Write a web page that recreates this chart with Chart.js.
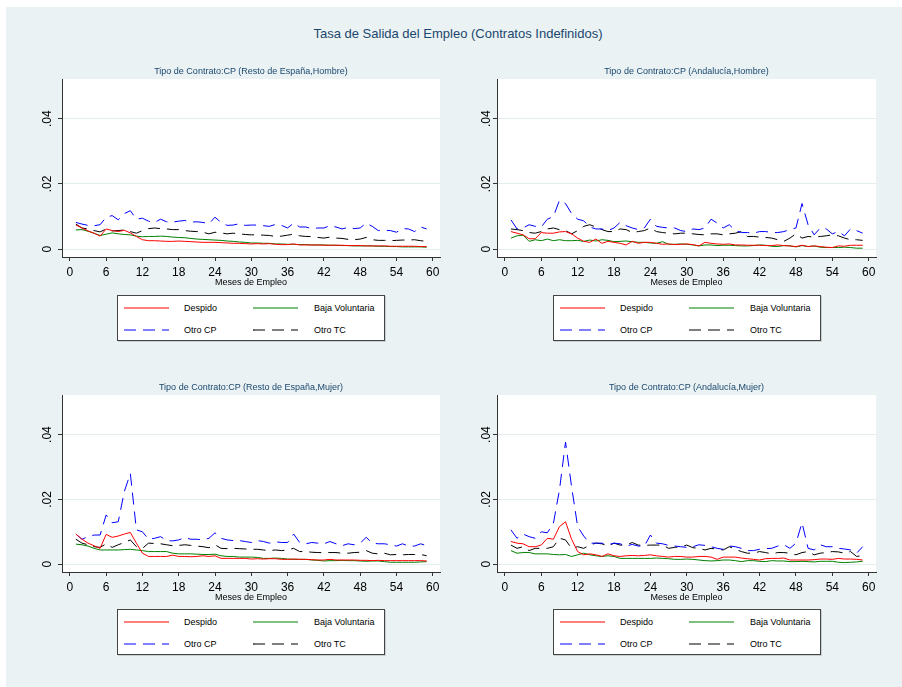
<!DOCTYPE html>
<html>
<head>
<meta charset="utf-8">
<script src="https://cdn.jsdelivr.net/npm/chart.js@4.4.0/dist/chart.umd.min.js"></script>
<style>
  body { margin:0; width:902px; height:687px; position:relative; overflow:hidden; background:#fff; font-family:'Liberation Sans', Arial, sans-serif; }
  #bg { position:absolute; left:6px; top:7px; right:0; bottom:0; background:#eaf2f3; }
  #mainTitle { position:absolute; left:158px; width:600px; top:25px; text-align:center; font-size:13px; line-height:18px; color:#1a476f; }
  .sub { position:absolute; width:380px; text-align:center; font-size:9px; line-height:12px; color:#1a476f; white-space:nowrap; }
  canvas { position:absolute; }
  .legend { position:absolute; width:266px; height:44px; background:#fff; border:1px solid #444; box-shadow:1px 1px 0 #c8d0d2; }
  .legend .item { position:absolute; font-size:9px; line-height:12px; color:#000; white-space:nowrap; }
  .legend svg { position:absolute; }
</style>
</head>
<body>
<div id="bg"></div>
<div id="mainTitle">Tasa de Salida del Empleo (Contratos Indefinidos)</div>

<script>
// meses 1..59
const months = [1,2,3,4,5,6,7,8,9,10,11,12,13,14,15,16,17,18,19,20,21,22,23,24,25,26,27,28,29,30,
  31,32,33,34,35,36,37,38,39,40,41,42,43,44,45,46,47,48,49,50,51,52,53,54,55,56,57,58,59];
const xTicks = [0,6,12,18,24,30,36,42,48,54,60];
const yTicks = [0,0.02,0.04];
const yTickLabels = ["0", ".02", ".04"];

const seriesNames = ["Despido", "Baja Voluntaria", "Otro CP", "Otro TC"];
const seriesColors = ["#ff0000", "#008000", "#0000ff", "#000000"];
const seriesDash = [[], [], [12, 7], [12, 7]];

// Resto de España, Hombre
const despidoRH = [.0074,.0065,.0056,.0049,.0040,.0062,.0057,.0054,.0058,.0050,.0039,.0029,.0026,.0026,.0025,.0024,.0024,.0025,.0024,.0023,
  .0022,.0021,.0021,.0021,.0020,.0019,.0018,.0018,.0017,.0016,.0017,.0016,.0017,.0015,.0014,.0014,.0016,.0013,.0013,.0013,
  .0013,.0012,.0012,.0012,.0012,.0011,.0011,.0011,.0010,.0010,.0010,.0010,.0009,.0009,.0009,.0009,.0009,.0008,.0008];
const bajaRH = [.0059,.0060,.0055,.0049,.0042,.0046,.0050,.0047,.0045,.0044,.0040,.0038,.0039,.0039,.0040,.0039,.0037,.0036,.0035,.0033,
  .0031,.0030,.0029,.0028,.0027,.0025,.0024,.0022,.0021,.0019,.0019,.0018,.0018,.0016,.0016,.0015,.0015,.0014,.0014,.0013,
  .0013,.0013,.0012,.0012,.0011,.0011,.0010,.0010,.0010,.0010,.0009,.0009,.0008,.0008,.0007,.0007,.0007,.0007,.0006];
const otroCPRH = [.0082,.0077,.0073,.0072,.0075,.0098,.0103,.0090,.0109,.0118,.0092,.0095,.0086,.0082,.0092,.0084,.0083,.0086,.0088,.0083,
  .0084,.0082,.0078,.0098,.0082,.0073,.0074,.0078,.0073,.0074,.0074,.0072,.0070,.0076,.0073,.0065,.0080,.0068,.0068,.0063,
  .0065,.0065,.0072,.0068,.0062,.0067,.0063,.0065,.0080,.0070,.0057,.0058,.0057,.0052,.0063,.0062,.0054,.0068,.0062];
const otroTCRH = [.0077,.0065,.0062,.0057,.0053,.0062,.0056,.0057,.0059,.0054,.0049,.0057,.0063,.0065,.0063,.0062,.0060,.0060,.0057,.0055,
  .0054,.0052,.0047,.0052,.0050,.0047,.0049,.0047,.0045,.0044,.0044,.0043,.0042,.0039,.0040,.0043,.0046,.0041,.0039,.0039,
  .0036,.0034,.0037,.0034,.0033,.0030,.0029,.0031,.0036,.0029,.0027,.0027,.0026,.0027,.0028,.0028,.0029,.0026,.0024];

// Andalucía, Hombre
const despidoAH = [.0054,.0049,.0044,.0032,.0032,.0051,.0049,.0049,.0053,.0054,.0047,.0034,.0024,.0021,.0031,.0018,.0024,.0021,.0018,.0013,
  .0024,.0018,.0021,.0021,.0018,.0015,.0016,.0014,.0015,.0016,.0014,.0010,.0021,.0018,.0016,.0015,.0016,.0013,.0013,.0012,
  .0012,.0012,.0011,.0011,.0013,.0011,.0010,.0008,.0012,.0008,.0010,.0008,.0006,.0005,.0010,.0009,.0012,.0012,.0012];
const bajaAH = [.0034,.0041,.0043,.0024,.0029,.0026,.0031,.0026,.0029,.0026,.0026,.0027,.0024,.0028,.0025,.0029,.0027,.0023,.0024,.0025,
  .0023,.0021,.0021,.0019,.0018,.0023,.0015,.0015,.0016,.0015,.0013,.0010,.0013,.0013,.0011,.0012,.0012,.0011,.0010,.0010,
  .0011,.0013,.0012,.0009,.0008,.0011,.0010,.0007,.0011,.0008,.0010,.0006,.0005,.0005,.0005,.0006,.0005,.0003,.0003];
const otroCPAH = [.0090,.0062,.0065,.0075,.0070,.0068,.0092,.0100,.0150,.0140,.0109,.0092,.0087,.0068,.0062,.0062,.0057,.0065,.0082,.0072,
  .0065,.0060,.0065,.0092,.0070,.0067,.0065,.0065,.0057,.0054,.0062,.0060,.0065,.0092,.0080,.0065,.0075,.0057,.0051,.0051,
  .0049,.0054,.0054,.0051,.0051,.0054,.0060,.0065,.0140,.0075,.0044,.0065,.0062,.0047,.0054,.0041,.0062,.0057,.0049];
const otroTCAH = [.0062,.0060,.0057,.0051,.0049,.0054,.0062,.0065,.0060,.0057,.0047,.0057,.0070,.0075,.0068,.0060,.0054,.0054,.0062,.0060,
  .0051,.0054,.0057,.0065,.0054,.0051,.0049,.0047,.0049,.0049,.0047,.0045,.0044,.0047,.0047,.0044,.0047,.0049,.0054,.0039,
  .0039,.0037,.0036,.0034,.0029,.0024,.0034,.0047,.0034,.0039,.0037,.0039,.0041,.0044,.0041,.0034,.0029,.0029,.0027];

// Resto de España, Mujer
const despidoRM = [.0093,.0077,.0065,.0057,.0049,.0092,.0083,.0087,.0093,.0098,.0065,.0034,.0024,.0024,.0024,.0024,.0028,.0024,.0024,.0023,
  .0024,.0026,.0024,.0026,.0018,.0018,.0018,.0018,.0018,.0016,.0017,.0016,.0017,.0017,.0015,.0015,.0016,.0015,.0015,.0014,
  .0013,.0013,.0015,.0013,.0013,.0013,.0013,.0012,.0012,.0011,.0012,.0011,.0011,.0011,.0011,.0011,.0011,.0011,.0010];
const bajaRM = [.0062,.0060,.0056,.0049,.0044,.0044,.0044,.0044,.0045,.0046,.0044,.0042,.0039,.0039,.0039,.0039,.0034,.0032,.0032,.0032,
  .0031,.0030,.0030,.0031,.0026,.0024,.0024,.0022,.0022,.0022,.0021,.0018,.0018,.0019,.0018,.0016,.0015,.0015,.0015,.0013,
  .0012,.0010,.0011,.0011,.0012,.0011,.0011,.0010,.0009,.0010,.0010,.0008,.0006,.0006,.0006,.0006,.0006,.0007,.0008];
const otroCPRM = [.0093,.0077,.0085,.0090,.0090,.0152,.0128,.0131,.0224,.0280,.0106,.0100,.0077,.0080,.0085,.0073,.0072,.0075,.0082,.0077,
  .0077,.0075,.0080,.0097,.0080,.0075,.0073,.0073,.0070,.0067,.0073,.0070,.0065,.0069,.0067,.0067,.0093,.0067,.0063,.0067,
  .0065,.0063,.0070,.0063,.0057,.0063,.0060,.0065,.0083,.0065,.0063,.0063,.0060,.0056,.0063,.0056,.0056,.0063,.0057];
const otroTCRM = [.0077,.0065,.0060,.0054,.0052,.0063,.0052,.0060,.0067,.0075,.0054,.0049,.0065,.0064,.0063,.0060,.0057,.0058,.0060,.0058,
  .0056,.0054,.0051,.0060,.0049,.0048,.0049,.0048,.0047,.0046,.0046,.0044,.0042,.0044,.0042,.0044,.0049,.0039,.0039,.0037,
  .0036,.0036,.0036,.0036,.0034,.0034,.0036,.0037,.0042,.0034,.0032,.0034,.0029,.0030,.0029,.0030,.0030,.0030,.0026];

// Andalucía, Mujer
const despidoAM = [.0070,.0065,.0063,.0054,.0054,.0059,.0080,.0077,.0116,.0131,.0077,.0039,.0029,.0032,.0029,.0024,.0032,.0026,.0024,.0026,
  .0027,.0026,.0027,.0029,.0026,.0024,.0022,.0024,.0024,.0022,.0022,.0024,.0024,.0022,.0015,.0022,.0022,.0022,.0019,.0017,
  .0015,.0013,.0017,.0018,.0018,.0019,.0013,.0013,.0013,.0013,.0014,.0016,.0016,.0015,.0018,.0016,.0016,.0015,.0013];
const bajaAM = [.0042,.0034,.0036,.0036,.0032,.0032,.0032,.0030,.0029,.0030,.0024,.0029,.0034,.0029,.0026,.0024,.0026,.0024,.0018,.0018,
  .0018,.0018,.0018,.0018,.0019,.0018,.0017,.0015,.0015,.0016,.0015,.0013,.0011,.0010,.0011,.0013,.0013,.0011,.0008,.0011,
  .0011,.0009,.0008,.0011,.0010,.0010,.0008,.0008,.0009,.0008,.0007,.0009,.0009,.0009,.0006,.0005,.0006,.0007,.0009];
const otroCPAM = [.0106,.0080,.0093,.0085,.0080,.0100,.0097,.0126,.0229,.0377,.0239,.0116,.0087,.0065,.0065,.0065,.0060,.0065,.0063,.0056,
  .0061,.0056,.0056,.0090,.0065,.0063,.0058,.0056,.0054,.0052,.0054,.0060,.0058,.0054,.0049,.0046,.0056,.0054,.0049,.0042,
  .0042,.0046,.0048,.0049,.0056,.0060,.0049,.0065,.0128,.0049,.0044,.0060,.0054,.0054,.0049,.0047,.0044,.0034,.0054];
const otroTCAM = [.0059,.0049,.0054,.0042,.0049,.0049,.0049,.0054,.0080,.0075,.0049,.0054,.0049,.0059,.0065,.0063,.0056,.0065,.0059,.0059,
  .0067,.0059,.0058,.0059,.0059,.0059,.0049,.0052,.0054,.0059,.0051,.0049,.0044,.0049,.0046,.0044,.0054,.0046,.0039,.0034,
  .0034,.0039,.0036,.0032,.0036,.0036,.0034,.0029,.0036,.0039,.0029,.0034,.0036,.0039,.0038,.0034,.0039,.0024,.0027];

Chart.defaults.font.family = "'Liberation Sans', Arial, sans-serif";
Chart.defaults.color = "#000";

// fondo blanco solo en la zona del grafico
const whiteArea = {
  id: "whiteArea",
  beforeDraw(chart) {
    const a = chart.chartArea;
    chart.ctx.save();
    chart.ctx.fillStyle = "#fff";
    chart.ctx.fillRect(a.left, a.top, a.right - a.left, a.bottom - a.top);
    chart.ctx.restore();
  }
};

const panels = [
  { title: "Tipo de Contrato:CP (Resto de España,Hombre)", series: [despidoRH, bajaRH, otroCPRH, otroTCRH],
    left: 30, top: 62, w: 420, h: 228, yW: 32, yPad: 2, legendX: 117, legendY: 295 },
  { title: "Tipo de Contrato:CP (Andalucía,Hombre)", series: [despidoAH, bajaAH, otroCPAH, otroTCAH],
    left: 470, top: 62, w: 416, h: 228, yW: 27, yPad: -2, legendX: 553, legendY: 295 },
  { title: "Tipo de Contrato:CP (Resto de España,Mujer)", series: [despidoRM, bajaRM, otroCPRM, otroTCRM],
    left: 30, top: 378, w: 420, h: 227, yW: 32, yPad: 2, legendX: 117, legendY: 609 },
  { title: "Tipo de Contrato:CP (Andalucía,Mujer)", series: [despidoAM, bajaAM, otroCPAM, otroTCAM],
    left: 470, top: 378, w: 416, h: 227, yW: 27, yPad: -2, legendX: 553, legendY: 609 }
];

function makeLegend(x, y) {
  let box = document.createElement("div");
  box.className = "legend";
  box.style.left = x + "px";
  box.style.top = y + "px";
  let rowsY = [11.5, 33.5];
  let colX = [[6, 66], [135, 196]];
  for (let i = 0; i < seriesNames.length; i++) {
    let r = Math.floor(i / 2), c = i % 2;
    let svg = document.createElementNS("http://www.w3.org/2000/svg", "svg");
    svg.setAttribute("width", "45");
    svg.setAttribute("height", "4");
    svg.style.left = colX[c][0] + "px";
    svg.style.top = (rowsY[r] - 2) + "px";
    let line = document.createElementNS("http://www.w3.org/2000/svg", "line");
    line.setAttribute("x1", "0"); line.setAttribute("x2", "45");
    line.setAttribute("y1", "2"); line.setAttribute("y2", "2");
    line.setAttribute("stroke", seriesColors[i]);
    line.setAttribute("stroke-width", "1.2");
    if (seriesDash[i].length) line.setAttribute("stroke-dasharray", seriesDash[i].join(" "));
    svg.appendChild(line);
    box.appendChild(svg);
    let t = document.createElement("div");
    t.className = "item";
    t.textContent = seriesNames[i];
    t.style.left = colX[c][1] + "px";
    t.style.top = (rowsY[r] - 6) + "px";
    box.appendChild(t);
  }
  document.body.appendChild(box);
}

panels.forEach(p => {
  let canvas = document.createElement("canvas");
  canvas.width = p.w;
  canvas.height = p.h;
  canvas.style.left = p.left + "px";
  canvas.style.top = p.top + "px";
  document.body.appendChild(canvas);

  let sub = document.createElement("div");
  sub.className = "sub";
  sub.textContent = p.title;
  sub.style.left = (p.left + p.yW + (p.w - 10 - p.yW) / 2 - 190) + "px";
  sub.style.top = (p.top + 3) + "px";
  document.body.appendChild(sub);

  new Chart(canvas.getContext("2d"), {
    type: "line",
    data: {
      datasets: p.series.map((vals, i) => ({
        label: seriesNames[i],
        data: months.map((m, j) => ({ x: m, y: vals[j] })),
        borderColor: seriesColors[i],
        borderDash: seriesDash[i],
        borderWidth: 1,
        pointRadius: 0,
        fill: false,
        tension: 0
      }))
    },
    options: {
      responsive: false,
      animation: false,
      layout: { padding: { top: 17, right: 10, left: 0, bottom: 0 } },
      plugins: { legend: { display: false }, tooltip: { enabled: false } },
      scales: {
        x: {
          type: "linear",
          min: -1.3,
          max: 61.2,
          afterBuildTicks: s => { s.ticks = xTicks.map(v => ({ value: v })); },
          afterFit: s => { s.height = 33; },
          ticks: { maxRotation: 0, autoSkip: false, padding: 4, font: { size: 12 }, color: "#000" },
          grid: { drawOnChartArea: false, tickLength: 4, tickColor: "#333" },
          border: { color: "#333" },
          title: { display: true, text: "Meses de Empleo", color: "#000",
                   font: { size: 9, lineHeight: 1 }, padding: { top: 0, bottom: 2.5 } }
        },
        y: {
          min: -0.0024,
          max: 0.0522,
          afterBuildTicks: s => { s.ticks = yTicks.map(v => ({ value: v })); },
          afterFit: s => { s.width = p.yW; },
          ticks: { minRotation: 90, maxRotation: 90, crossAlign: "center", autoSkip: false,
                   padding: p.yPad, font: { size: 12 }, color: "#000",
                   callback: (v, i) => yTickLabels[i] },
          grid: { color: "#e3ecee", tickLength: 4, tickColor: "#333" },
          border: { color: "#333" }
        }
      }
    },
    plugins: [whiteArea]
  });

  makeLegend(p.legendX, p.legendY);
});
</script>
</body>
</html>
